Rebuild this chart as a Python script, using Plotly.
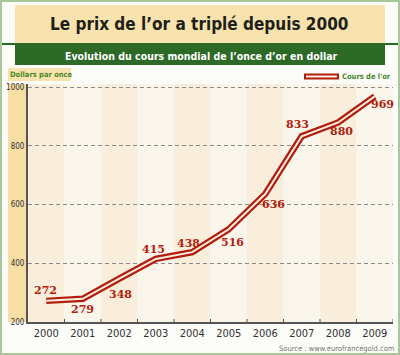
import plotly.graph_objects as go

years = [2000, 2001, 2002, 2003, 2004, 2005, 2006, 2007, 2008, 2009]
prices = [272, 279, 348, 415, 438, 516, 636, 833, 880, 969]
# label offsets (pixels) relative to each point: (dx, dy) with dy positive = up
label_dx = [-1, 0, 1, -2, -4, 4, 8, -4, 3, 8]
label_dy = [10, -11, -16, 9, 9, -13, -10, 12, -9, -8]
yticks = [200, 400, 600, 800, 1000]

W, H = 400, 355
L, R, T, B = 28, 7, 84, 33
pw, ph = W - L - R, H - T - B

def px(x):
    return (x - L) / pw

def py(y):
    return (H - B - y) / ph

RED = "#b31d0c"
GREEN = "#2d6a27"
BEIGE = "#f8e2ad"
COND = "DejaVu Sans Condensed, sans-serif"

fig = go.Figure()

shapes = []
for i, yr in enumerate(years):
    shapes.append(dict(type="rect", xref="x", yref="paper", x0=yr - 0.5, x1=yr + 0.5,
                       y0=0, y1=1, fillcolor="#f8eedb" if i % 2 == 0 else "#faf6ec",
                       line_width=0, layer="below"))
shapes.append(dict(type="rect", xref="paper", yref="paper", x0=px(1), x1=px(399), y0=py(354), y1=py(1),
                   line=dict(color="#a9c79a", width=2), fillcolor="rgba(0,0,0,0)", layer="below"))
shapes.append(dict(type="rect", xref="paper", yref="paper", x0=px(15), x1=px(385), y0=py(43), y1=py(5),
                   fillcolor=BEIGE, line_width=0, layer="below"))
shapes.append(dict(type="line", xref="paper", yref="paper", x0=px(2), x1=px(398), y0=py(44), y1=py(44),
                   line=dict(color=GREEN, width=2)))
shapes.append(dict(type="rect", xref="paper", yref="paper", x0=px(15), x1=px(385), y0=py(65), y1=py(45),
                   fillcolor=GREEN, line_width=0, layer="below"))
shapes.append(dict(type="rect", xref="paper", yref="paper", x0=px(8), x1=px(71), y0=py(81), y1=py(68),
                   fillcolor=BEIGE, line_width=0, layer="below"))
shapes.append(dict(type="rect", xref="paper", yref="paper", x0=px(8), x1=px(27), y0=py(322), y1=py(84),
                   fillcolor="#f6dea5", line_width=0, layer="below"))
for yr in years:
    shapes.append(dict(type="line", xref="x", yref="paper", x0=yr + 0.5, x1=yr + 0.5,
                       y0=0, y1=py(319), line=dict(color="#555", width=1)))
shapes.append(dict(type="line", xref="paper", yref="paper", x0=px(304), x1=px(339), y0=py(76.5), y1=py(76.5),
                   line=dict(color=RED, width=6)))
shapes.append(dict(type="line", xref="paper", yref="paper", x0=px(306), x1=px(337), y0=py(76.5), y1=py(76.5),
                   line=dict(color="#fbeee4", width=2)))

fig.add_trace(go.Scatter(x=years, y=prices, mode="lines", line=dict(color=RED, width=6.5),
                         showlegend=False, hoverinfo="skip"))
fig.add_trace(go.Scatter(x=years, y=prices, mode="lines", line=dict(color="#fbeee4", width=2),
                         showlegend=False, hoverinfo="skip"))

annotations = []
for yr, p, dx, dy in zip(years, prices, label_dx, label_dy):
    annotations.append(dict(x=yr, y=p, xref="x", yref="y", text=str(p), showarrow=False,
                            xshift=dx, yshift=dy, xanchor="center", yanchor="middle",
                            font=dict(family="DejaVu Serif", size=11, color=RED, weight="bold")))

annotations += [
    dict(xref="paper", yref="paper", x=px(199), y=py(24), xanchor="center", yanchor="middle",
         text="Le prix de l’or a triplé depuis 2000",
         showarrow=False, font=dict(family=COND, size=17, color="#1f1f1a", weight="bold")),
    dict(xref="paper", yref="paper", x=px(201), y=py(55.5), xanchor="center", yanchor="middle",
         text="Evolution du cours mondial de l’once d’or en dollar",
         showarrow=False, font=dict(family=COND, size=10.5, color="white", weight="bold")),
    dict(xref="paper", yref="paper", x=px(8), y=py(74.5), xanchor="left", yanchor="middle",
         text="Dollars par once",
         showarrow=False, font=dict(family=COND, size=7.5, color="#4a8a2a", weight="bold")),
    dict(xref="paper", yref="paper", x=px(393), y=py(76.5), xanchor="right", yanchor="middle",
         text="Cours de l'or",
         showarrow=False, font=dict(family=COND, size=7.5, color="#4a8a2a", weight="bold")),
    dict(xref="paper", yref="paper", x=px(396), y=py(348), xanchor="right", yanchor="middle",
         text="Source : www.eurofrancegold.com",
         showarrow=False, font=dict(family=COND, size=7.5, color="#777")),
]

fig.update_layout(
    width=W, height=H, margin=dict(l=L, r=R, t=T, b=B, autoexpand=False),
    paper_bgcolor="#fcfcf9", plot_bgcolor="rgba(0,0,0,0)",
    shapes=shapes, annotations=annotations, showlegend=False,
    xaxis=dict(range=[1999.5, 2009.5], tickvals=years, ticktext=[str(y) for y in years],
               showgrid=False, zeroline=False, showline=True, linecolor="#555", linewidth=2,
               automargin=False, ticks="",
               tickfont=dict(family=COND, size=11, color="#333")),
    yaxis=dict(range=[200, 1011], tickvals=yticks, showgrid=True, gridcolor="#8a8a8a",
               griddash="4px,3px", gridwidth=1, zeroline=False, showline=True, linecolor="#555",
               linewidth=2, ticks="", automargin=False,
               tickfont=dict(family=COND, size=8, color="#333")),
)

fig.write_html("out.html", config={"displayModeBar": False},
               post_script="document.body.style.margin='0';")
